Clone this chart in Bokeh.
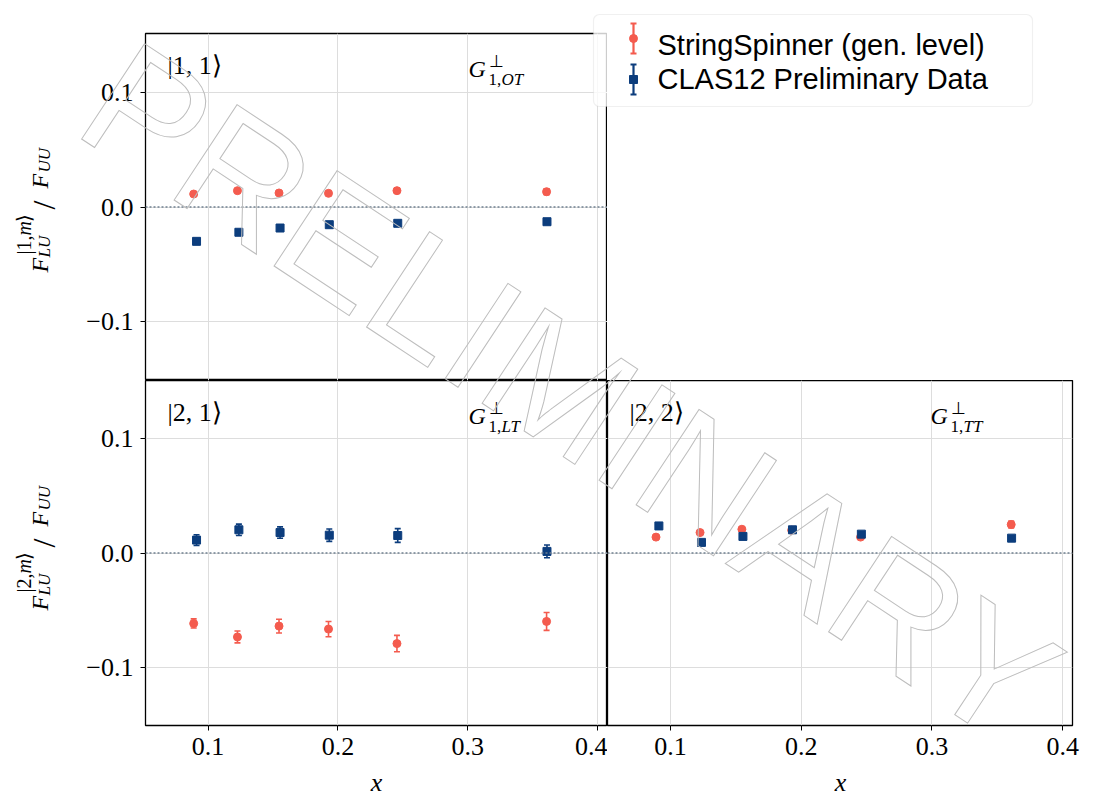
import math
from bokeh.plotting import figure
from bokeh.models import (Range1d, Label, Whisker, ColumnDataSource, Span,
                          FixedTicker, BoxAnnotation, TeeHead)
from bokeh.layouts import column, row
from bokeh.embed import file_html
from bokeh.resources import INLINE

# ---------------- data ----------------
x_sim = [0.0889, 0.1226, 0.1546, 0.1927, 0.2454, 0.3606]
x_dat = [0.0911, 0.1237, 0.1554, 0.1933, 0.2460, 0.3609]

sim_11 = [0.0113, 0.0142, 0.0122, 0.0119, 0.0142, 0.0133]
sim_11_err = [0.0015, 0.0015, 0.0015, 0.0015, 0.0018, 0.0025]
dat_11 = [-0.0299, -0.0220, -0.0183, -0.0154, -0.0142, -0.0128]
dat_11_err = [0.0012, 0.0012, 0.0012, 0.0012, 0.0012, 0.0012]

sim_21 = [-0.0617, -0.0735, -0.0640, -0.0666, -0.0793, -0.0599]
sim_21_err = [0.0040, 0.0052, 0.0060, 0.0067, 0.0072, 0.0078]
dat_21 = [0.0113, 0.0203, 0.0179, 0.0156, 0.0153, 0.0014]
dat_21_err = [0.0047, 0.0050, 0.0050, 0.0054, 0.0060, 0.0056]

sim_22 = [0.0139, 0.0179, 0.0208, 0.0200, 0.0139, 0.0249]
sim_22_err = [0.0015, 0.0015, 0.0015, 0.0015, 0.0018, 0.0030]
dat_22 = [0.0237, 0.0093, 0.0145, 0.0203, 0.0165, 0.0130]
dat_22_err = [0.0012, 0.0012, 0.0012, 0.0012, 0.0012, 0.0012]

x_ticks = [0.1, 0.2, 0.3, 0.4]
x_tick_labels = ["0.1", "0.2", "0.3", "0.4"]
y_ticks = [-0.1, 0.0, 0.1]
y_tick_labels = ["\u22120.1", "0.0", "0.1"]

sim_label = "StringSpinner (gen. level)"
dat_label = "CLAS12 Preliminary Data"

# ---------------- style ----------------
RED = "#f45b4e"
BLUE = "#0c3d7d"
SERIF = "Liberation Serif"
SANS = "Liberation Sans"
X_RANGE = (0.0518, 0.4075)
Y_RANGE = (-0.151, 0.151)
PAGE_W, PAGE_H = 1102, 798


def lab(p, x, y, text, size, style="normal", font=SERIF, angle=0.0,
        align="left", baseline="alphabetic", color="black"):
    p.add_layout(Label(x=x, y=y, x_units="canvas", y_units="canvas", text=text,
                       text_font=font, text_font_size=f"{size}px",
                       text_font_style=style, angle=angle, text_align=align,
                       text_baseline=baseline, text_color=color))


def panel(width, height, mbl, mbr, mbt, mbb, show_x, show_y):
    p = figure(width=width, height=height, x_range=Range1d(*X_RANGE),
               y_range=Range1d(*Y_RANGE), output_backend="svg",
               toolbar_location=None, min_border_left=mbl, min_border_right=mbr,
               min_border_top=mbt, min_border_bottom=mbb)
    p.background_fill_color = "white"
    p.border_fill_color = "white"
    p.outline_line_color = "black"
    p.outline_line_width = 1.3
    p.outline_line_alpha = 1.0
    for ax in p.xaxis:
        ax.ticker = FixedTicker(ticks=x_ticks)
        ax.major_label_overrides = dict(zip(x_ticks, x_tick_labels))
    for ax in p.yaxis:
        ax.ticker = FixedTicker(ticks=y_ticks)
        ax.major_label_overrides = dict(zip(y_ticks, y_tick_labels))
    for ax in p.xaxis + p.yaxis:
        ax.axis_line_color = None
        ax.major_tick_line_color = "black"
        ax.major_tick_line_width = 1.0
        ax.major_tick_out = 5
        ax.major_tick_in = 0
        ax.minor_tick_line_color = None
        ax.major_label_text_font = SERIF
        ax.major_label_text_font_size = "26px"
        ax.major_label_text_color = "black"
        ax.major_label_standoff = 7
    p.xaxis.visible = show_x
    p.yaxis.visible = show_y
    p.xgrid.ticker = FixedTicker(ticks=x_ticks)
    p.ygrid.ticker = FixedTicker(ticks=y_ticks)
    p.grid.grid_line_color = "#dddddd"
    p.grid.grid_line_width = 1.0
    p.add_layout(Span(location=0, dimension="width", line_color="#6f8090",
                      line_dash="2 2", line_width=1.6))
    return p


def series(p, xs, ys, errs, color, marker):
    src = ColumnDataSource(dict(x=xs, y=ys,
                                lo=[y - e for y, e in zip(ys, errs)],
                                hi=[y + e for y, e in zip(ys, errs)]))
    p.add_layout(Whisker(base="x", lower="lo", upper="hi", source=src,
                         dimension="height", line_color=color, line_width=1.6,
                         lower_head=TeeHead(size=6, line_color=color, line_width=1.6),
                         upper_head=TeeHead(size=6, line_color=color, line_width=1.6)))
    p.scatter("x", "y", source=src, marker=marker, size=8,
              fill_color=color, line_color=color)


def panel_labels(p, fl, ft, ket, sub):
    lab(p, fl + 22, ft + 32, ket, 26)
    lab(p, fl + 323, ft + 35, "G", 24, "italic")
    lab(p, fl + 343, ft + 28, "\u22a5", 17)
    lab(p, fl + 343, ft + 46, "1,", 17)
    lab(p, fl + 356, ft + 46, sub, 17, "italic")


# ---------------- top-left |1,1> ----------------
pA = panel(607, 380, 145, 0, 33, 0, False, True)
series(pA, x_sim, sim_11, sim_11_err, RED, "circle")
series(pA, x_dat, dat_11, dat_11_err, BLUE, "square")
panel_labels(pA, 145, 33, "|1, 1\u27e9", "OT")

# ---------------- bottom-left |2,1> ----------------
pB = panel(607, 418, 145, 0, 0, 73, True, True)
series(pB, x_sim, sim_21, sim_21_err, RED, "circle")
series(pB, x_dat, dat_21, dat_21_err, BLUE, "square")
panel_labels(pB, 145, 0, "|2, 1\u27e9", "LT")

# ---------------- bottom-right |2,2> ----------------
pC = panel(495, 418, 0, 30, 0, 73, True, False)
series(pC, x_sim, sim_22, sim_22_err, RED, "circle")
series(pC, x_dat, dat_22, dat_22_err, BLUE, "square")
panel_labels(pC, 0, 0, "|2, 2\u27e9", "TT")

# ---------------- transparent overlay: axis titles, legend, watermark ----------------
pW = figure(width=PAGE_W, height=PAGE_H, x_range=Range1d(0, PAGE_W),
            y_range=Range1d(PAGE_H, 0), output_backend="svg",
            toolbar_location=None, min_border=0,
            styles={"position": "absolute", "top": "0px", "left": "0px",
                    "pointer-events": "none"})
pW.axis.visible = False
pW.grid.visible = False
pW.outline_line_color = None
pW.background_fill_color = None
pW.border_fill_color = None


def ylabel(p, center, sup_text):
    base_x = 39
    start = center + 64
    a = math.pi / 2
    lab(p, base_x, start, "F", 24, "italic", angle=a)
    lab(p, base_x + 5, start - 15, "LU", 17, "italic", angle=a)
    lab(p, base_x - 16, start - 18, sup_text, 20, angle=a)
    lab(p, base_x - 16, start - 37, "m", 20, "italic", angle=a)
    lab(p, base_x - 16, start - 51, "\u27e9", 20, angle=a)
    lab(p, base_x + 4, start - 63, "/", 32, angle=a)
    lab(p, base_x, start - 84, "F", 24, "italic", angle=a)
    lab(p, base_x + 5, start - 100, "UU", 17, "italic", angle=a)


ylabel(pW, 208, "|1,")
ylabel(pW, 546, "|2,")
lab(pW, 376, 782, "x", 26, "italic", align="center")
lab(pW, 840, 782, "x", 26, "italic", align="center")

# legend
pW.add_layout(BoxAnnotation(left=593, right=1032, top=14, bottom=106,
                            left_units="canvas", right_units="canvas",
                            top_units="canvas", bottom_units="canvas",
                            fill_color="white", fill_alpha=0.8,
                            line_color="#cccccc", line_width=1.2, border_radius=6,
                            level="underlay"))
leg_x = [633, 633]
leg_y = [38, 79]
leg_col = [RED, BLUE]
leg_mk = ["circle", "square"]
for i in range(2):
    src = ColumnDataSource(dict(x=[leg_x[i]], y=[leg_y[i]],
                                lo=[leg_y[i] - 15], hi=[leg_y[i] + 15]))
    c = leg_col[i]
    pW.add_layout(Whisker(base="x", lower="lo", upper="hi", source=src, dimension="height",
                          line_color=c, line_width=2.2, level="underlay",
                          lower_head=TeeHead(size=6, line_color=c, line_width=1.8),
                          upper_head=TeeHead(size=6, line_color=c, line_width=1.8)))
    pW.scatter("x", "y", source=src, marker=leg_mk[i], size=8, fill_color=c, line_color=c)
lab(pW, 657, 44, sim_label, 29, font=SANS)
lab(pW, 657, 78, dat_label, 29, font=SANS)

# watermark
pW.add_layout(Label(x=570, y=392, x_units="canvas", y_units="canvas",
                    text="PRELIMINARY", angle=-0.583, text_align="center",
                    text_baseline="middle", text_font=SANS,
                    text_font_size="166px", text_color=(255, 255, 255, 0.01),
                    text_outline_color="#bdbdbd"))

layout = column(pA, row(pB, pC))
open("out.html", "w").write(file_html([layout, pW], INLINE))
